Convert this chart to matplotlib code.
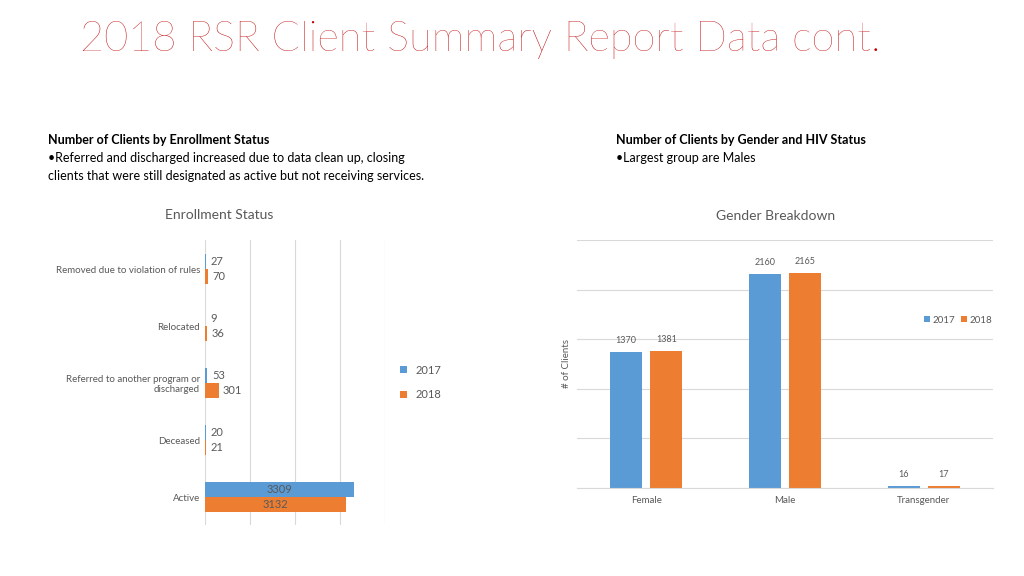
import matplotlib
matplotlib.use("Agg")
import matplotlib.pyplot as plt
import numpy as np

plt.rcParams["font.family"] = "Lato"

BLUE = "#5b9bd5"
ORANGE = "#ed7d31"
GRAY = "#595959"

# enrollment status (top to bottom)
enroll_cats = ["Removed due to violation of rules", "Relocated",
               "Referred to another program or\ndischarged", "Deceased", "Active"]
enroll_2017 = [27, 9, 53, 20, 3309]
enroll_2018 = [70, 36, 301, 21, 3132]

# gender breakdown
gender_cats = ["Female", "Male", "Transgender"]
gender_2017 = [1370, 2160, 16]
gender_2018 = [1381, 2165, 17]

W, H = 1024, 576
fig = plt.figure(figsize=(W / 100, H / 100), dpi=100)


def box(x0, y0, x1, y1):
    return [x0 / W, 1 - y1 / H, (x1 - x0) / W, (y1 - y0) / H]


fig.text(80 / W, 1 - 40 / H, "2018 RSR Client Summary Report Data cont.", color="#c00000",
         fontsize=30, fontweight="light", va="center", ha="left")

fig.text(48 / W, 1 - 140 / H, "Number of Clients by Enrollment Status", fontsize=9,
         fontweight="bold", va="center", color="black")
fig.text(48 / W, 1 - 158 / H, "\u2022Referred and discharged increased due to data clean up, closing",
         fontsize=9, va="center")
fig.text(48 / W, 1 - 176 / H, "clients that were still designated as active but not receiving services.",
         fontsize=9, va="center")
fig.text(616 / W, 1 - 140 / H, "Number of Clients by Gender and HIV Status", fontsize=9,
         fontweight="bold", va="center")
fig.text(616 / W, 1 - 158 / H, "\u2022Largest group are Males", fontsize=9, va="center")

# left chart
ax = fig.add_axes(box(205, 240, 385, 525))
y = np.arange(len(enroll_cats))
h = 0.26
ax.barh(y - h / 2, enroll_2017, h, color=BLUE, label="2017")
ax.barh(y + h / 2, enroll_2018, h, color=ORANGE, label="2018")
ax.set_ylim(4.49, -0.51)
ax.set_xlim(0, 4000)
ax.set_xticks([0, 1000, 2000, 3000, 4000])
ax.xaxis.grid(True, color="#d9d9d9", lw=0.8)
ax.set_axisbelow(True)
ax.tick_params(length=0, labelbottom=False)
ax.set_yticks(y)
ax.set_yticklabels(enroll_cats, fontsize=7, color=GRAY)
for s in ax.spines.values():
    s.set_visible(False)
for i, (a, b) in enumerate(zip(enroll_2017, enroll_2018)):
    if a > 1000:
        ax.text(a / 2, i - h / 2, str(a), ha="center", va="center", fontsize=8, color=GRAY)
        ax.text(b / 2, i + h / 2, str(b), ha="center", va="center", fontsize=8, color=GRAY)
    else:
        ax.text(max(a, 30) + 100, i - h / 2, str(a), va="center", fontsize=8, color=GRAY)
        ax.text(max(b, 30) + 100, i + h / 2, str(b), va="center", fontsize=8, color=GRAY)
ax.legend(loc="center left", bbox_to_anchor=(1.03, 0.5), frameon=False, fontsize=8,
          handlelength=0.6, handleheight=0.6, labelspacing=1.2, labelcolor=GRAY)
fig.text(219 / W, 1 - 215 / H, "Enrollment Status", ha="center", va="center",
         fontsize=10, color=GRAY)

# right chart
ax2 = fig.add_axes(box(577, 240, 993, 488))
x = np.arange(len(gender_cats))
w = 0.23
ax2.bar(x - 0.145, gender_2017, w, color=BLUE, label="2017")
ax2.bar(x + 0.145, gender_2018, w, color=ORANGE, label="2018")
ax2.set_xlim(-0.5, 2.5)
ax2.set_ylim(0, 2500)
ax2.set_yticks(range(0, 2501, 500))
ax2.yaxis.grid(True, color="#d9d9d9", lw=0.8)
ax2.set_axisbelow(True)
ax2.tick_params(length=0, labelleft=False, labelsize=7, labelcolor=GRAY, pad=6)
ax2.set_xticks(x)
ax2.set_xticklabels(gender_cats)
for s in ax2.spines.values():
    s.set_visible(False)
ax2.spines["bottom"].set_visible(True)
ax2.spines["bottom"].set_color("#d9d9d9")
for i in x:
    ax2.text(i - 0.145, gender_2017[i] + 90, str(gender_2017[i]), ha="center", fontsize=6.5, color=GRAY)
    ax2.text(i + 0.145, gender_2018[i] + 90, str(gender_2018[i]), ha="center", fontsize=6.5, color=GRAY)
ax2.set_ylabel("# of Clients", fontsize=7, color=GRAY)
ax2.legend(loc="upper right", bbox_to_anchor=(1.02, 0.73), ncol=2, frameon=False, fontsize=7,
           handlelength=0.6, handleheight=0.6, columnspacing=0.6, handletextpad=0.3, labelcolor=GRAY)
fig.text(776 / W, 1 - 216 / H, "Gender Breakdown", ha="center", va="center",
         fontsize=10, color=GRAY)

fig.savefig("out.png", dpi=100)
